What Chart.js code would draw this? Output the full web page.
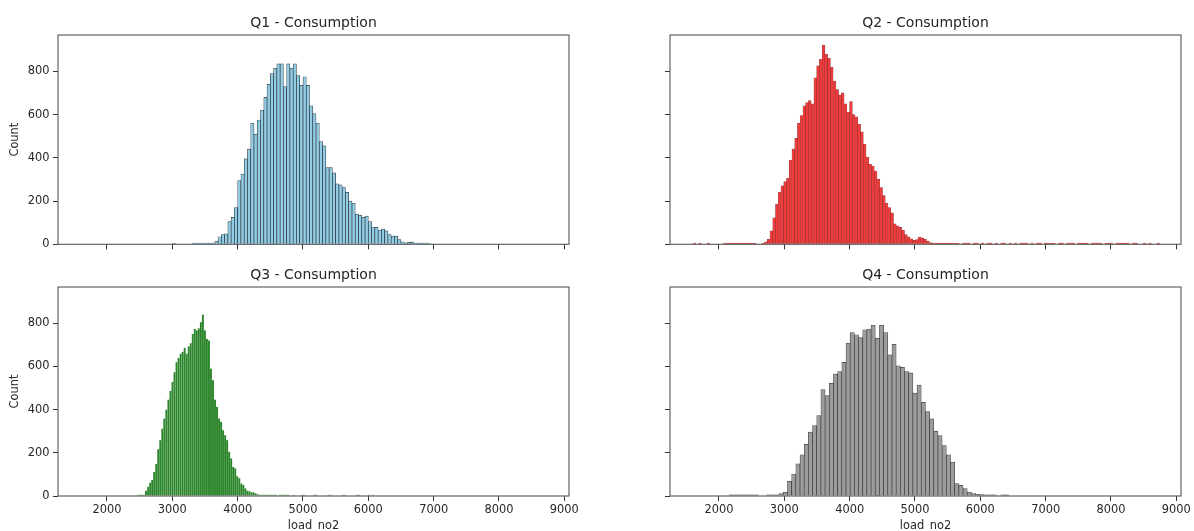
<!DOCTYPE html>
<html>
<head>
<meta charset="utf-8">
<script src="https://cdn.jsdelivr.net/npm/chart.js@4.4.1/dist/chart.umd.min.js"></script>
<style>
  html, body { margin: 0; padding: 0; background: #ffffff; overflow: hidden; width: 1194px; height: 531px; }
  .panel { position: absolute; }
</style>
</head>
<body>
<div class="panel" style="left:0px; top:0px; width:627px; height:255px"><canvas id="q1"></canvas></div>
<div class="panel" style="left:612px; top:0px; width:627px; height:255px"><canvas id="q2"></canvas></div>
<div class="panel" style="left:0px; top:252px; width:627px; height:281px"><canvas id="q3"></canvas></div>
<div class="panel" style="left:612px; top:252px; width:627px; height:281px"><canvas id="q4"></canvas></div>
<script>
// histogram bins: first bin edge, bin width, counts per bin
const q1_start = 3000;
const q1_width = 50;
const q1_counts = [2, 0, 0, 0, 0, 0,
    1, 1, 2, 2, 2, 3, 5, 15, 35, 45, 48, 105, 125, 170,
    295, 325, 395, 440, 560, 510, 575, 620, 680, 740, 790, 815, 835, 835, 730, 835, 815, 835, 780, 735,
    775, 735, 640, 605, 560, 475, 455, 355, 355, 330, 280, 275, 265, 240, 200, 190, 140, 135, 125, 130,
    105, 80, 78, 65, 70, 62, 45, 38, 38, 22, 12, 7, 9, 10, 4, 4, 4, 3, 6];

const q2_start = 1605;
const q2_width = 42;
const q2_counts = [
    1, 0, 1, 0, 0, 1, 0, 0, 0, 0, 0, 1, 1, 1, 1, 1, 1, 1, 1, 1, 1, 2, 1, 0, 0,
    5, 12, 23, 62, 123, 185, 240, 270, 290, 305,
    390, 440, 490, 560, 595, 640, 655, 665, 650, 770,
    825, 855, 920, 880, 860, 820, 755, 715, 690, 700,
    650, 610, 660, 600, 590, 555, 520, 462, 403, 370,
    362, 339, 300, 262, 225, 190, 170, 145, 95, 85,
    78, 66, 45, 35, 25, 18, 22, 32, 30, 23,
    15, 8, 4, 2,
    2, 1, 1, 2, 1, 1, 1, 1, 0, 1,
    1, 1, 0, 1, 1, 0, 1, 0, 1, 1,
    0, 1, 0, 1, 1, 0, 1, 0, 1, 0,
    1, 1, 1, 0, 1, 0, 1, 1, 0, 1,
    1, 1, 1, 0, 1, 1, 0, 1, 1, 1,
    0, 1, 1, 1, 1, 0, 1, 1, 1, 1,
    0, 1, 1, 1, 0, 1, 1, 1, 1, 1,
    0, 1, 1, 0, 0, 1, 0, 1, 0, 0,
    1];

const q3_start = 2460;
const q3_width = 31;
const q3_counts = [
    3, 4, 4, 5, 25, 43, 62, 74, 112, 148,
    217, 259, 312, 359, 400, 446, 487, 528, 574, 620,
    640, 659, 668, 686, 659, 693, 708, 751, 774, 767,
    776, 805, 840, 767, 728, 720, 590, 536, 446, 413,
    359, 343, 305, 282, 259, 205, 174, 135, 128, 92,
    82, 58, 51, 35, 25, 22, 17, 18, 12, 8,
    5, 3, 5, 3, 2, 3, 2, 1, 2, 0,
    2, 1, 2, 2, 1, 0, 0, 1, 0, 0,
    0, 1, 1, 0, 0, 0, 0, 1, 1, 0,
    0, 0, 0, 0, 1, 1, 0, 0, 0, 0,
    0, 1, 1, 0, 0, 0, 0, 0, 1, 1,
    0, 0, 0, 0, 1, 0, 1];

const q4_start = 2152;
const q4_width = 64;
const q4_counts = [
    4, 5, 3, 3, 4, 3, 2, 0, 0, 2, 4, 5,
    11, 18, 68, 102, 149, 191, 239, 296, 326, 373,
    493, 465, 522, 565, 576, 619, 708, 757, 747, 734,
    770, 773, 791, 730, 791, 757, 654, 702, 603, 596,
    576, 570, 477, 514, 434, 391, 357, 299, 280, 234,
    191, 157, 57, 49, 34, 18, 11, 8, 6,
    5, 5, 3, 0, 3, 3];

const x_ticks = [2000, 3000, 4000, 5000, 6000, 7000, 8000, 9000];
const y_ticks = [0, 200, 400, 600, 800];
const x_min = 1250;
const x_max = 9072;
const y_max = 968;

Chart.defaults.font.family = "'DejaVu Sans', sans-serif";
Chart.defaults.color = '#262626';

const frame_plugin = {
    id: 'frame',
    afterDatasetsDraw(chart) {
        const { ctx, chartArea } = chart;
        ctx.save();
        ctx.strokeStyle = '#555555';
        ctx.lineWidth = 1.1;
        ctx.strokeRect(chartArea.left, chartArea.top, chartArea.right - chartArea.left, chartArea.bottom - chartArea.top);
        ctx.restore();
    }
};

function histogram_points(start, width, counts) {
    const points = [];
    counts.forEach((c, i) => {
        if (c > 0) points.push({ x: start + width * (i + 0.5), y: c });
    });
    return points;
}

function make_panel(id, title, start, width, counts, fill, edge, edge_width, left_labels, bottom_labels) {
    const tick_font = { size: 11.4 };
    new Chart(document.getElementById(id), {
        type: 'bar',
        data: {
            datasets: [{
                data: histogram_points(start, width, counts),
                backgroundColor: fill,
                borderColor: edge,
                borderWidth: edge_width,
                barPercentage: 1,
                categoryPercentage: 1,
                minBarLength: 1.2
            }]
        },
        options: {
            responsive: true,
            maintainAspectRatio: false,
            animation: false,
            scales: {
                x: {
                    type: 'linear',
                    min: x_min,
                    max: x_max,
                    offset: false,
                    grid: { offset: false, drawOnChartArea: false, color: '#333333', tickLength: 5 },
                    border: { display: false },
                    ticks: { display: bottom_labels, padding: 2.5, font: tick_font, maxRotation: 0, autoSkip: false,
                             callback: (v) => String(v) },
                    afterBuildTicks: (s) => { s.ticks = x_ticks.map(v => ({ value: v })); },
                    title: { display: bottom_labels, text: 'load_no2', font: tick_font, padding: { top: 0, bottom: 0 } },
                    afterFit: (s) => { s.height = bottom_labels ? 37 : 10.7; }
                },
                y: {
                    type: 'linear',
                    position: 'left',
                    min: 0,
                    max: y_max,
                    grid: { drawOnChartArea: false, color: '#333333', tickLength: 5 },
                    border: { display: false },
                    ticks: { display: left_labels, padding: 3.5, font: tick_font, autoSkip: false,
                             callback: (v) => String(v) },
                    afterBuildTicks: (s) => { s.ticks = y_ticks.map(v => ({ value: v })); },
                    title: { display: left_labels, text: 'Count', font: tick_font, padding: { top: 8.2, bottom: 0 } },
                    afterFit: (s) => { s.width = 58; }
                },
                pad: {
                    type: 'linear',
                    position: 'right',
                    display: true,
                    grid: { display: false },
                    border: { display: false },
                    ticks: { display: false },
                    afterFit: (s) => { s.width = 58; }
                }
            },
            plugins: {
                legend: { display: false },
                tooltip: { enabled: false },
                title: {
                    display: true,
                    text: title,
                    color: '#262626',
                    font: { size: 14, weight: 'normal' },
                    padding: { top: 14.5, bottom: 3.7 }
                }
            }
        },
        plugins: [frame_plugin]
    });
}

make_panel('q1', 'Q1 - Consumption', q1_start, q1_width, q1_counts, '#92cde6', 'rgba(20,30,40,0.85)', 0.7, true, false);
make_panel('q2', 'Q2 - Consumption', q2_start, q2_width, q2_counts, '#ee3b3b', 'rgba(110,15,15,0.75)', 0.5, false, false);
make_panel('q3', 'Q3 - Consumption', q3_start, q3_width, q3_counts, '#2a852a', 'rgba(140,190,140,0.35)', 0.4, true, true);
make_panel('q4', 'Q4 - Consumption', q4_start, q4_width, q4_counts, '#9c9c9c', 'rgba(40,40,40,0.85)', 0.7, false, true);
</script>
</body>
</html>
